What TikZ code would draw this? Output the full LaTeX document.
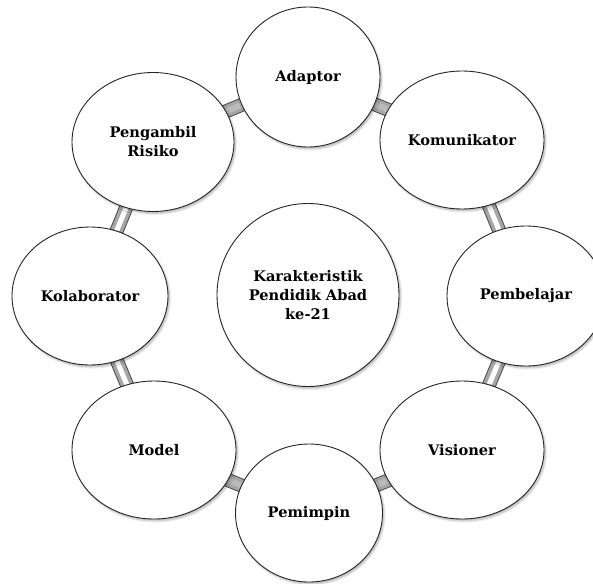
\documentclass[tikz,border=0pt]{standalone}
\usepackage{fontspec}
\setmainfont{DejaVu Serif}
\usetikzlibrary{shapes.geometric,shadows.blur}
\begin{document}
\begin{tikzpicture}[x=1pt,y=-1pt]
\tikzset{
  ring/.style args={#1/#2}{shape=ellipse,draw=black!85,line width=0.9pt,fill=white,
    minimum width=#1pt,minimum height=#2pt,inner sep=0pt,align=center,
    font=\bfseries\fontsize{14.6}{19}\selectfont,
    blur shadow={shadow xshift=1.5pt,shadow yshift=-2pt,shadow blur steps=5,shadow opacity=30}},
  barout/.style={line width=14pt,draw=black!70},
  barin/.style={line width=12pt,draw=black!35},
  barhi/.style={line width=5pt,draw=white},
  barmid/.style={line width=6pt,draw=black!27},
}
\useasboundingbox (0,0) rectangle (593,583);
% centres
\coordinate (cA) at (308,77);
\coordinate (cK) at (462,140);
\coordinate (cPb) at (526,296);
\coordinate (cV) at (462,450);
\coordinate (cPm) at (309,513);
\coordinate (cM) at (154,450);
\coordinate (cKo) at (90,296);
\coordinate (cR) at (153,142);
% shallow bars (uniform)
\foreach \a/\b in {cA/cK, cV/cPm, cPm/cM, cR/cA}{
  \draw[barout] (\a) -- (\b);
  \draw[barin] (\a) -- (\b);
  \draw[barmid] (\a) -- (\b);
}
% steep bars (light centre)
\foreach \a/\b in {cK/cPb, cPb/cV, cM/cKo, cKo/cR}{
  \draw[barout] (\a) -- (\b);
  \draw[barin] (\a) -- (\b);
  \draw[barhi] (\a) -- (\b);
}
% nodes
\node[ring=144/140] (adaptor) at (cA) {Adaptor};
\node[ring=164/138] (komunikator) at (cK) {Komunikator};
\node[ring=158/140] (pembelajar) at (cPb) {Pembelajar};
\node[ring=164/138] (visioner) at (cV) {Visioner};
\node[ring=147/138] (pemimpin) at (cPm) {Pemimpin};
\node[ring=164/138] (model) at (cM) {Model};
\node[ring=156/138] (kolaborator) at (cKo) {Kolaborator};
\node[ring=162/139] (risiko) at (cR) {Pengambil\\Risiko};
\node[ring=182/183] (center) at (308,295) {Karakteristik\\Pendidik Abad\\ke-21};
\end{tikzpicture}
\end{document}
